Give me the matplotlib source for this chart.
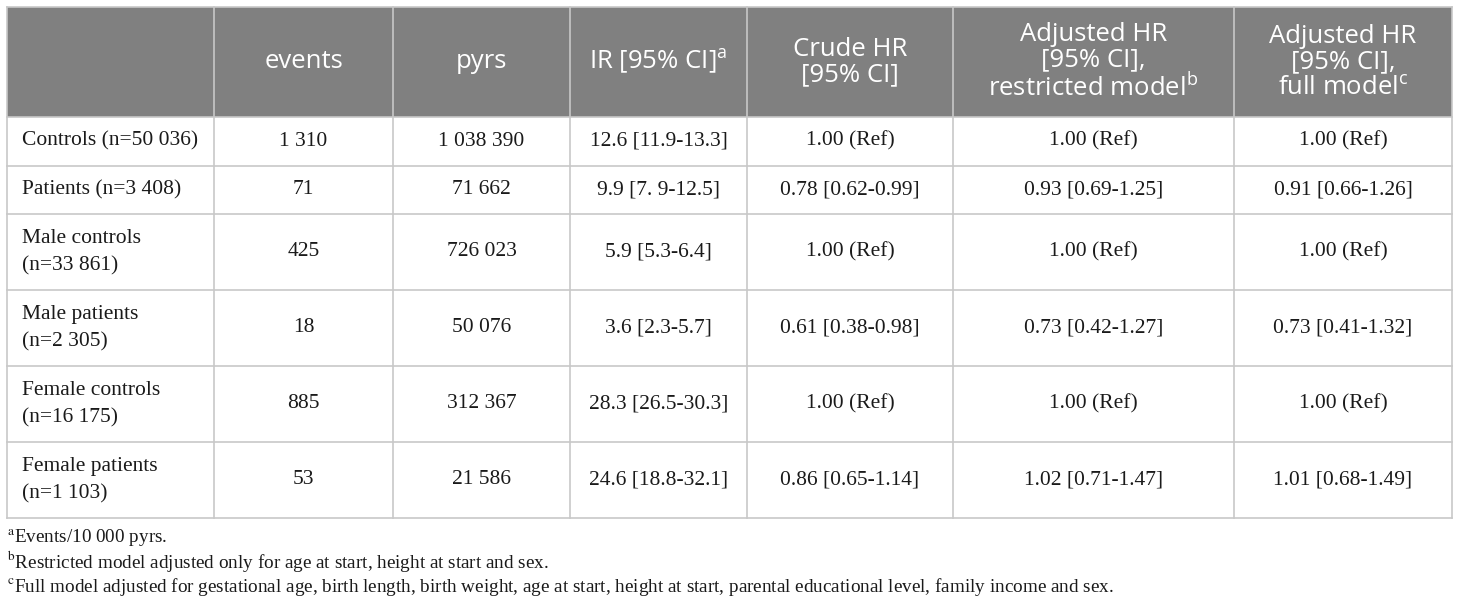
import matplotlib
matplotlib.use("Agg")
import matplotlib.pyplot as plt
from matplotlib.patches import Rectangle

plt.rcParams['mathtext.fontset'] = 'custom'
plt.rcParams['mathtext.rm'] = 'Open Sans'
plt.rcParams['mathtext.it'] = 'Open Sans'

# table content
headers = ["", "events", "pyrs", r"IR [95% CI]$^{\mathrm{a}}$", "Crude HR\n[95% CI]",
           "Adjusted HR\n[95% CI],\n" + r"restricted model$^{\mathrm{b}}$",
           "Adjusted HR\n[95% CI],\n" + r"full model$^{\mathrm{c}}$"]
groups = ["Controls (n=50 036)", "Patients (n=3 408)", "Male controls\n(n=33 861)",
          "Male patients\n(n=2 305)", "Female controls\n(n=16 175)", "Female patients\n(n=1 103)"]
events = ["1 310", "71", "425", "18", "885", "53"]
pyrs = ["1 038 390", "71 662", "726 023", "50 076", "312 367", "21 586"]
ir = ["12.6 [11.9-13.3]", "9.9 [7. 9-12.5]", "5.9 [5.3-6.4]", "3.6 [2.3-5.7]",
      "28.3 [26.5-30.3]", "24.6 [18.8-32.1]"]
crude_hr = ["1.00 (Ref)", "0.78 [0.62-0.99]", "1.00 (Ref)", "0.61 [0.38-0.98]",
            "1.00 (Ref)", "0.86 [0.65-1.14]"]
adj_restricted = ["1.00 (Ref)", "0.93 [0.69-1.25]", "1.00 (Ref)", "0.73 [0.42-1.27]",
                  "1.00 (Ref)", "1.02 [0.71-1.47]"]
adj_full = ["1.00 (Ref)", "0.91 [0.66-1.26]", "1.00 (Ref)", "0.73 [0.41-1.32]",
            "1.00 (Ref)", "1.01 [0.68-1.49]"]
footnotes = [("a", "Events/10 000 pyrs."),
             ("b", "Restricted model adjusted only for age at start, height at start and sex."),
             ("c", "Full model adjusted for gestational age, birth length, birth weight, age at start, "
                   "height at start, parental educational level, family income and sex.")]

# layout in pixels
col_edges = [7, 214, 393, 570, 747, 953, 1234, 1452]
row_edges = [7, 117, 165.5, 214, 290, 366, 442, 518]
foot_y = [538, 562, 587]

header_bg = "#808080"
grid_col = "#c8c8c8"
text_col = "#1a1a1a"
body_font = "Liberation Serif"
head_font = "Open Sans"

fig = plt.figure(figsize=(14.6, 6.05), dpi=100)
ax = fig.add_axes([0, 0, 1, 1])
ax.set_xlim(0, 1460)
ax.set_ylim(605, 0)
ax.axis("off")

# header background
ax.add_patch(Rectangle((col_edges[0], row_edges[0]), col_edges[-1] - col_edges[0],
                       row_edges[1] - row_edges[0], facecolor=header_bg, edgecolor="none"))

# grid lines
for y in row_edges:
    ax.plot([col_edges[0], col_edges[-1]], [y, y], color=grid_col, lw=1.2)
for x in col_edges:
    ax.plot([x, x], [row_edges[0], row_edges[-1]], color=grid_col, lw=1.2)

# header text
for j, h in enumerate(headers):
    if not h:
        continue
    xc = (col_edges[j] + col_edges[j + 1]) / 2
    yc = (row_edges[0] + row_edges[1]) / 2
    ax.text(xc, yc, h, ha="center", va="center", color="white", fontsize=18.5,
            family=head_font, linespacing=1.05, math_fontfamily="custom")

# body
columns = [events, pyrs, ir, crude_hr, adj_restricted, adj_full]
for i, g in enumerate(groups):
    yc = (row_edges[i + 1] + row_edges[i + 2]) / 2
    ax.text(col_edges[0] + 15, yc, g, ha="left", va="center", fontsize=15.5,
            family=body_font, color=text_col, linespacing=1.6)
    for j, col in enumerate(columns):
        xc = (col_edges[j + 1] + col_edges[j + 2]) / 2
        ax.text(xc, yc, col[i], ha="center", va="center", fontsize=15.5,
                family=body_font, color=text_col)

# footnotes
for (mark, txt), y in zip(footnotes, foot_y):
    ax.text(col_edges[0], y, r"$^{\mathrm{%s}}$" % mark + txt, ha="left", va="center",
            fontsize=13.8, family=body_font, color=text_col, math_fontfamily="stix")

fig.savefig("out.png", dpi=100)
